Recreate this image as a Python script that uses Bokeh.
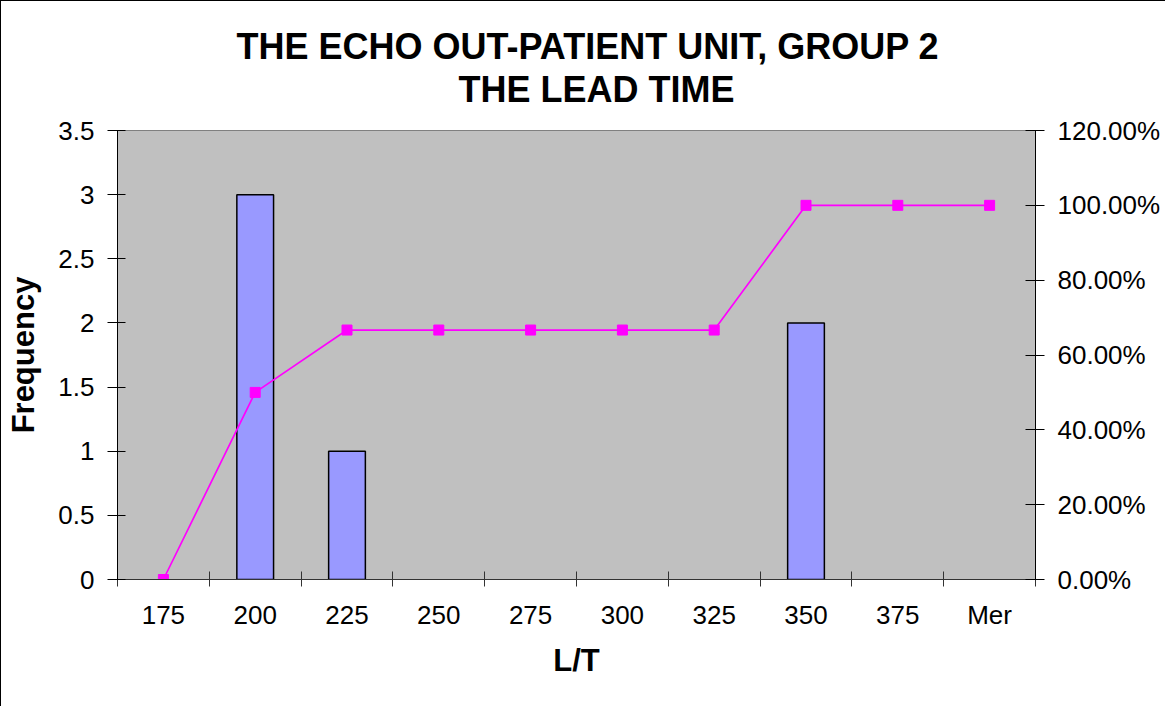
from bokeh.plotting import figure
from bokeh.models import (Range1d, LinearAxis, FixedTicker, NumeralTickFormatter, Title,
                          ColumnDataSource, CDSView, BooleanFilter)
from bokeh.embed import file_html
from bokeh.resources import INLINE

# ---- data ----
categories = ["175", "200", "225", "250", "275", "300", "325", "350", "375", "Mer"]
frequency = [0, 3, 1, 0, 0, 0, 0, 2, 0, 0]
cumulative_pct = [0.0, 50.0, 66.67, 66.67, 66.67, 66.67, 66.67, 100.0, 100.0, 100.0]
freq_ticks = [0, 0.5, 1, 1.5, 2, 2.5, 3, 3.5]
pct_ticks = [0, 20, 40, 60, 80, 100, 120]
title_lines = ["THE ECHO OUT-PATIENT UNIT, GROUP 2", "THE LEAD TIME"]

FONT = "Liberation Sans"

n = len(categories)
xs = [i + 0.5 for i in range(n)]
src = ColumnDataSource(dict(x=xs, cat=categories, freq=frequency,
                            cum=[v / 100.0 for v in cumulative_pct]))

p = figure(width=1165, height=706, x_range=Range1d(0, n), y_range=Range1d(0, 3.5),
           output_backend="svg", toolbar_location=None, title=None,
           min_border_left=116, min_border_right=131, min_border_top=129, min_border_bottom=128)
p.styles = {"border-left": "1px solid black", "border-top": "1px solid black"}

p.background_fill_color = "#C0C0C0"
p.border_fill_color = "white"
p.outline_line_color = "#808080"
p.outline_line_width = 1
p.xgrid.visible = False
p.ygrid.visible = False

p.extra_y_ranges = {"pct": Range1d(0, 1.2)}

# bars (zero-height bars are not drawn)
view = CDSView(filter=BooleanFilter([f > 0 for f in frequency]))
p.vbar(x="x", top="freq", width=0.4, bottom=0, source=src, view=view,
       fill_color="#9999FF", line_color="black", line_width=1.5)

# cumulative line
p.line(x="x", y="cum", source=src, y_range_name="pct", line_color="#FF00FF", line_width=1.7)
p.scatter(x="x", y="cum", source=src, y_range_name="pct", marker="square", size=10,
          fill_color="#FF00FF", line_color="#FF00FF")

# x axis
xa = p.xaxis[0]
xa.ticker = FixedTicker(ticks=xs, minor_ticks=list(range(n + 1)))
xa.major_label_overrides = {x: c for x, c in zip(xs, categories)}
xa.major_tick_in = 0
xa.major_tick_out = 0
xa.minor_tick_in = 8
xa.minor_tick_out = 7
xa.minor_tick_line_color = "#333333"
xa.axis_line_color = "#333333"
xa.major_label_standoff = 13
xa.major_label_text_font = FONT
xa.major_label_text_font_size = "26px"
xa.major_label_text_color = "black"
xa.axis_label = "L/T"
xa.axis_label_text_font = FONT
xa.axis_label_text_font_size = "31px"
xa.axis_label_text_font_style = "bold"
xa.axis_label_text_color = "black"
xa.axis_label_standoff = 10

# left axis
ya = p.yaxis[0]
ya.ticker = FixedTicker(ticks=freq_ticks)
ya.formatter = NumeralTickFormatter(format="0.[0]")
ya.major_tick_in = 8
ya.major_tick_out = 10
ya.minor_tick_line_color = None
ya.axis_line_color = "black"
ya.major_tick_line_color = "black"
ya.major_label_standoff = 13
ya.major_label_text_font = FONT
ya.major_label_text_font_size = "26px"
ya.major_label_text_color = "black"
ya.axis_label = "Frequency"
ya.axis_label_text_font = FONT
ya.axis_label_text_font_size = "31px"
ya.axis_label_text_font_style = "bold"
ya.axis_label_text_color = "black"
ya.axis_label_standoff = 14

# right axis
ra = LinearAxis(y_range_name="pct", ticker=FixedTicker(ticks=[t / 100.0 for t in pct_ticks]),
                formatter=NumeralTickFormatter(format="0.00%"))
ra.major_tick_in = 10
ra.major_tick_out = 9
ra.minor_tick_line_color = None
ra.axis_line_color = "black"
ra.major_tick_line_color = "black"
ra.major_label_standoff = 13
ra.major_label_text_font = FONT
ra.major_label_text_font_size = "26px"
ra.major_label_text_color = "black"
p.add_layout(ra, "right")

# titles (a blank spacer panel sits between the frame and the second line)
p.add_layout(Title(text=" ", text_font=FONT, text_font_size="10px", standoff=8), "above")
p.add_layout(Title(text=title_lines[1], align="left", offset=341, text_font=FONT,
                   text_font_size="36px", text_font_style="bold", text_color="black",
                   standoff=0), "above")
p.add_layout(Title(text=title_lines[0], align="left", offset=119, text_font=FONT,
                   text_font_size="36px", text_font_style="bold", text_color="black",
                   standoff=0), "above")

open("out.html", "w").write(file_html(p, INLINE))
